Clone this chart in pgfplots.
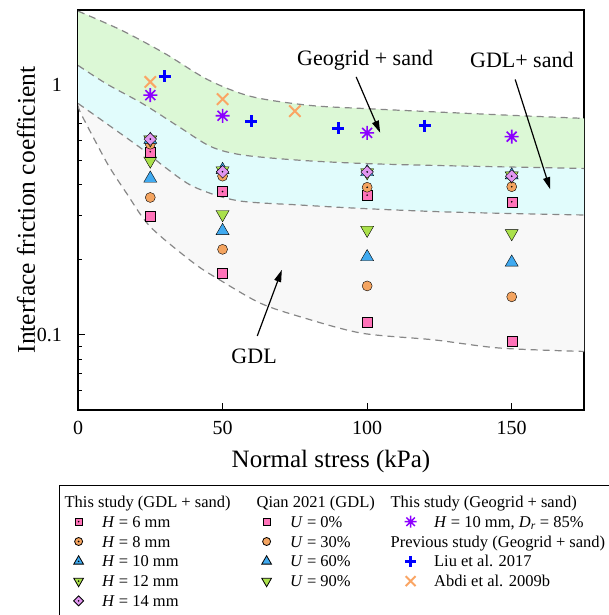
\documentclass[border=0pt]{standalone}
\usepackage{pgfplots}
\pgfplotsset{compat=1.18}
\usepackage{pgfplotstable}
\usepgfplotslibrary{fillbetween}
\usetikzlibrary{arrows.meta}
\usepackage{fontspec}
\setmainfont{Liberation Serif}

\definecolor{pinkc}{RGB}{255,115,185}
\definecolor{orangec}{RGB}{244,164,96}
\definecolor{bluec}{RGB}{64,170,240}
\definecolor{greenc}{RGB}{170,225,75}
\definecolor{violetc}{RGB}{225,150,240}
\definecolor{purplec}{RGB}{140,0,255}
\definecolor{liublue}{RGB}{0,0,255}
\definecolor{abdic}{RGB}{250,165,100}
\definecolor{bandgreen}{RGB}{220,248,214}
\definecolor{bandcyan}{RGB}{225,252,252}
\definecolor{bandgray}{RGB}{248,248,248}
\definecolor{dashc}{RGB}{135,135,135}

\makeatletter
\pgfdeclareplotmark{psq}{%
  \pgfpathrectangle{\pgfqpoint{-\pgfplotmarksize}{-\pgfplotmarksize}}{\pgfqpoint{2\pgfplotmarksize}{2\pgfplotmarksize}}%
  \pgfusepathqfillstroke}
\pgfdeclareplotmark{pci}{%
  \pgfpathcircle{\pgfpointorigin}{\pgfplotmarksize}\pgfusepathqfillstroke}
\pgfdeclareplotmark{ptu}{%
  \pgfpathmoveto{\pgfqpoint{0pt}{\pgfplotmarksize}}%
  \pgfpathlineto{\pgfqpoint{-.8660254\pgfplotmarksize}{-.5\pgfplotmarksize}}%
  \pgfpathlineto{\pgfqpoint{.8660254\pgfplotmarksize}{-.5\pgfplotmarksize}}%
  \pgfpathclose\pgfusepathqfillstroke}
\pgfdeclareplotmark{ptd}{%
  \pgfpathmoveto{\pgfqpoint{0pt}{-\pgfplotmarksize}}%
  \pgfpathlineto{\pgfqpoint{-.8660254\pgfplotmarksize}{.5\pgfplotmarksize}}%
  \pgfpathlineto{\pgfqpoint{.8660254\pgfplotmarksize}{.5\pgfplotmarksize}}%
  \pgfpathclose\pgfusepathqfillstroke}
\pgfdeclareplotmark{pdi}{%
  \pgfpathmoveto{\pgfqpoint{0pt}{\pgfplotmarksize}}%
  \pgfpathlineto{\pgfqpoint{\pgfplotmarksize}{0pt}}%
  \pgfpathlineto{\pgfqpoint{0pt}{-\pgfplotmarksize}}%
  \pgfpathlineto{\pgfqpoint{-\pgfplotmarksize}{0pt}}%
  \pgfpathclose\pgfusepathqfillstroke}
\newcommand\centerdot{\pgfscope\pgfsetfillcolor{black}\pgfpathcircle{\pgfpointorigin}{0.9pt}\pgfusepathqfill\endpgfscope}
\pgfdeclareplotmark{dsq}{\pgfuseplotmark{psq}\centerdot}
\pgfdeclareplotmark{dci}{\pgfuseplotmark{pci}\centerdot}
\pgfdeclareplotmark{dtu}{\pgfuseplotmark{ptu}\centerdot}
\pgfdeclareplotmark{dtd}{\pgfuseplotmark{ptd}\centerdot}
\pgfdeclareplotmark{ddi}{\pgfuseplotmark{pdi}\centerdot}
\pgfdeclareplotmark{ast8}{%
  \pgfpathmoveto{\pgfqpoint{-\pgfplotmarksize}{0pt}}\pgfpathlineto{\pgfqpoint{\pgfplotmarksize}{0pt}}%
  \pgfpathmoveto{\pgfqpoint{0pt}{-\pgfplotmarksize}}\pgfpathlineto{\pgfqpoint{0pt}{\pgfplotmarksize}}%
  \pgfpathmoveto{\pgfqpoint{-.7071\pgfplotmarksize}{-.7071\pgfplotmarksize}}\pgfpathlineto{\pgfqpoint{.7071\pgfplotmarksize}{.7071\pgfplotmarksize}}%
  \pgfpathmoveto{\pgfqpoint{-.7071\pgfplotmarksize}{.7071\pgfplotmarksize}}\pgfpathlineto{\pgfqpoint{.7071\pgfplotmarksize}{-.7071\pgfplotmarksize}}%
  \pgfusepathqstroke}
\makeatother

% band boundaries
\pgfplotstableread{
x y
0 1.98
15 1.66
30 1.34
45 1.05
60 0.90
80 0.83
100 0.805
125 0.78
150 0.757
175 0.736
}\Ttab
\pgfplotstableread{
x y
0 1.20
10 1.01
22.6 0.84
35 0.68
46 0.567
57 0.525
77 0.50
100 0.485
130 0.475
175 0.464
}\Mtab
\pgfplotstableread{
x y
0 0.845
10 0.70
22.6 0.55
30 0.47
40 0.392
55 0.345
77 0.331
100 0.32
130 0.31
175 0.302
}\Ntab
\pgfplotstableread{
x y
0 0.83
1 0.77
7.6 0.55
11.1 0.465
16.8 0.369
25 0.271
40 0.194
49 0.166
63 0.134
77 0.118
98 0.1016
123 0.0955
146 0.0885
175 0.0858
}\Ltab

% This study (GDL + sand)
\pgfplotstableread{
x y
25 0.541
50 0.375
100 0.363
150 0.341
}\Ha
\pgfplotstableread{
x y
25 0.58
50 0.432
100 0.390
150 0.392
}\Hb
\pgfplotstableread{
x y
25 0.605
50 0.458
100 0.449
150 0.436
}\Hc
\pgfplotstableread{
x y
25 0.605
50 0.455
100 0.447
150 0.434
}\Hd
\pgfplotstableread{
x y
25 0.608
50 0.450
100 0.449
150 0.432
}\He
% Qian 2021
\pgfplotstableread{
x y
25 0.300
50 0.176
100 0.112
150 0.094
}\Qa
\pgfplotstableread{
x y
25 0.355
50 0.220
100 0.157
150 0.142
}\Qb
\pgfplotstableread{
x y
25 0.423
50 0.261
100 0.205
150 0.195
}\Qc
\pgfplotstableread{
x y
25 0.498
50 0.304
100 0.263
150 0.255
}\Qd
% Geogrid
\pgfplotstableread{
x y
25 0.912
50 0.754
100 0.644
150 0.622
}\Geo
\pgfplotstableread{
x y
30 1.086
60 0.718
90 0.671
120 0.688
}\Liu
\pgfplotstableread{
x y
25 1.03
50 0.879
75 0.787
}\Abdi

\newcommand\ls{\rule[-4.5pt]{0pt}{17pt}}

\pgfplotsset{
  lm/.style={legend image code/.code={%
      \path[draw=none,fill=none] (0pt,-6pt) rectangle (37.5pt,6pt);
      \draw[##1] plot coordinates {(14pt,0pt)};}},
  lh/.style={legend image code/.code={\path[draw=none,fill=none] (0pt,-6pt) rectangle (37.5pt,6pt);}},
  mk/.style={only marks, mark options={draw=black, line width=1.2pt, solid}},
  lk/.style={only marks, mark options={draw=black, line width=1.4pt, solid}},
  dline/.style={dashc, line width=1.2pt, dash pattern=on 7pt off 5pt, smooth, forget plot},
}

\begin{document}
\begin{tikzpicture}
\begin{axis}[
  at={(78pt,-410pt)}, anchor=south west,
  width=506pt, height=400pt, scale only axis,
  xmin=0, xmax=175, ymin=0.05, ymax=2, ymode=log,
  axis line style={line width=1.2pt},
  xtick={0,50,100,150}, xticklabels={0,50,100,150},
  ytick={0.1,1}, yticklabels={0.1,1},
  minor ytick={0.06,0.07,0.08,0.09,0.2,0.3,0.4,0.5,0.6,0.7,0.8,0.9},
  tick align=inside, tick pos=left,
  major tick length=7pt, minor tick length=4pt,
  every tick/.style={black, line width=1pt},
  tick label style={font=\fontsize{20}{20}\selectfont},
  xticklabel style={anchor=base, yshift=-24pt},
  yticklabel style={anchor=east, inner sep=0pt, xshift=-16pt},
  xlabel={Normal stress (kPa)},
  ylabel={Interface friction coefficient},
  every axis x label/.style={at={(axis description cs:0.5,-0.1275)}, anchor=center, font=\fontsize{25}{25}\selectfont},
  every axis y label/.style={at={(axis description cs:-0.1028,0.5)}, rotate=90, anchor=center, font=\fontsize{25.5}{25.5}\selectfont},
  legend columns=3,
  legend cell align=left,
  legend style={at={(-0.0385,-0.1875)}, anchor=north west,
    draw=black, line width=0.8pt, inner xsep=5.7pt, inner ysep=9.5pt,
    font=\fontsize{16.5}{19}\selectfont,
    nodes={inner sep=0pt, draw=none}, row sep=5.8pt, column sep=0pt},
]
% bands
\addplot[draw=none, name path=T, smooth, forget plot] table {\Ttab};
\addplot[draw=none, name path=M, smooth, forget plot] table {\Mtab};
\addplot[draw=none, name path=N, smooth, forget plot] table {\Ntab};
\addplot[draw=none, name path=L, smooth, forget plot] table {\Ltab};
\addplot[bandgreen, forget plot] fill between[of=T and M];
\addplot[bandcyan, forget plot] fill between[of=M and N];
\addplot[bandgray, forget plot] fill between[of=N and L];
\addplot[dline] table {\Ttab};
\addplot[dline] table {\Mtab};
\addplot[dline] table {\Ntab};
\addplot[dline] table {\Ltab};

% annotations
\node[font=\fontsize{22}{22}\selectfont] at (axis cs:99.3,1.259) {Geogrid + sand};
\draw[line width=1.2pt, -{Triangle[length=12pt,width=7pt]}] (axis cs:96.2,1.079) -- (axis cs:104.5,0.645);
\node[font=\fontsize{22}{22}\selectfont] at (axis cs:153.5,1.259) {GDL+ sand};
\draw[line width=1.2pt, -{Triangle[length=12pt,width=7pt]}] (axis cs:151.2,1.054) -- (axis cs:163.3,0.383);
\node[font=\fontsize{22}{22}\selectfont] at (axis cs:60.9,0.0819) {GDL};
\draw[line width=1.2pt, -{Triangle[length=12pt,width=7pt]}] (axis cs:62.0,0.099) -- (axis cs:70.5,0.182);

% Qian 2021
\addplot[mk, mark=psq, mark size=5pt, mark options={fill=pinkc}, forget plot] table {\Qa};
\addplot[mk, mark=pci, mark size=5pt, mark options={fill=orangec}, forget plot] table {\Qb};
\addplot[mk, mark=ptu, mark size=7.5pt, mark options={fill=bluec}, forget plot] table {\Qc};
\addplot[mk, mark=ptd, mark size=7.5pt, mark options={fill=greenc}, forget plot] table {\Qd};
% This study
\addplot[mk, mark=dsq, mark size=5pt, mark options={fill=pinkc}, forget plot] table {\Ha};
\addplot[mk, mark=dci, mark size=5pt, mark options={fill=orangec}, forget plot] table {\Hb};
\addplot[mk, mark=dtu, mark size=7.5pt, mark options={fill=bluec}, forget plot] table {\Hc};
\addplot[mk, mark=dtd, mark size=7.5pt, mark options={fill=greenc}, forget plot] table {\Hd};
\addplot[mk, mark=ddi, mark size=6.3pt, mark options={fill=violetc}, forget plot] table {\He};
% Geogrid
\addplot[only marks, mark=ast8, mark size=7pt, mark options={draw=purplec, line width=1.6pt}, forget plot] table {\Geo};
\addplot[only marks, mark=+, mark size=6pt, mark options={draw=liublue, line width=3pt}, forget plot] table {\Liu};
\addplot[only marks, mark=x, mark size=8pt, mark options={draw=abdic, line width=2pt}, forget plot] table {\Abdi};

% legend (row-major)
\addlegendimage{lh}\addlegendentry{\makebox[150.5pt][l]{\hspace*{-37.5pt}This study (GDL + sand)\ls}}
\addlegendimage{lh}\addlegendentry{\makebox[106.5pt][l]{\hspace*{-33.5pt}Qian 2021 (GDL)\ls}}
\addlegendimage{lh}\addlegendentry{\makebox[230pt][l]{\hspace*{-43.5pt}This study (Geogrid + sand)\ls}}

\addlegendimage{lm, lk, mark=dsq, mark size=3.7pt, mark options={fill=pinkc}}\addlegendentry{\makebox[150.5pt][l]{\textit{H} = 6 mm\ls}}
\addlegendimage{lm, lk, mark=psq, mark size=3.7pt, mark options={fill=pinkc}}\addlegendentry{\makebox[106.5pt][l]{\textit{U} = 0\%\ls}}
\addlegendimage{lm, only marks, mark=ast8, mark size=6pt, mark options={draw=purplec, line width=1.5pt}}\addlegendentry{\makebox[230pt][l]{\textit{H} = 10 mm, \textit{D}\textsubscript{\textit{r}} = 85\%\ls}}

\addlegendimage{lm, lk, mark=dci, mark size=4pt, mark options={fill=orangec}}\addlegendentry{\makebox[150.5pt][l]{\textit{H} = 8 mm\ls}}
\addlegendimage{lm, lk, mark=pci, mark size=4pt, mark options={fill=orangec}}\addlegendentry{\makebox[106.5pt][l]{\textit{U} = 30\%\ls}}
\addlegendimage{lh}\addlegendentry{\makebox[230pt][l]{\hspace*{-43.5pt}Previous study (Geogrid + sand)\ls}}

\addlegendimage{lm, lk, mark=dtu, mark size=5.6pt, mark options={fill=bluec}}\addlegendentry{\makebox[150.5pt][l]{\textit{H} = 10 mm\ls}}
\addlegendimage{lm, lk, mark=ptu, mark size=5.6pt, mark options={fill=bluec}}\addlegendentry{\makebox[106.5pt][l]{\textit{U} = 60\%\ls}}
\addlegendimage{lm, only marks, mark=+, mark size=5.5pt, mark options={draw=liublue, line width=2.8pt}}\addlegendentry{\makebox[230pt][l]{Liu et al. 2017\ls}}

\addlegendimage{lm, lk, mark=dtd, mark size=5.6pt, mark options={fill=greenc}}\addlegendentry{\makebox[150.5pt][l]{\textit{H} = 12 mm\ls}}
\addlegendimage{lm, lk, mark=ptd, mark size=5.6pt, mark options={fill=greenc}}\addlegendentry{\makebox[106.5pt][l]{\textit{U} = 90\%\ls}}
\addlegendimage{lm, only marks, mark=x, mark size=7pt, mark options={draw=abdic, line width=2pt}}\addlegendentry{\makebox[230pt][l]{Abdi et al. 2009b\ls}}

\addlegendimage{lm, lk, mark=ddi, mark size=5pt, mark options={fill=violetc}}\addlegendentry{\makebox[150.5pt][l]{\textit{H} = 14 mm\ls}}
\addlegendimage{lh}\addlegendentry{\makebox[106.5pt][l]{\ls}}
\addlegendimage{lh}\addlegendentry{\makebox[230pt][l]{\ls}}
\end{axis}
\pgfresetboundingbox
\useasboundingbox (0pt,0pt) rectangle (609pt,-615pt);
\end{tikzpicture}
\end{document}
